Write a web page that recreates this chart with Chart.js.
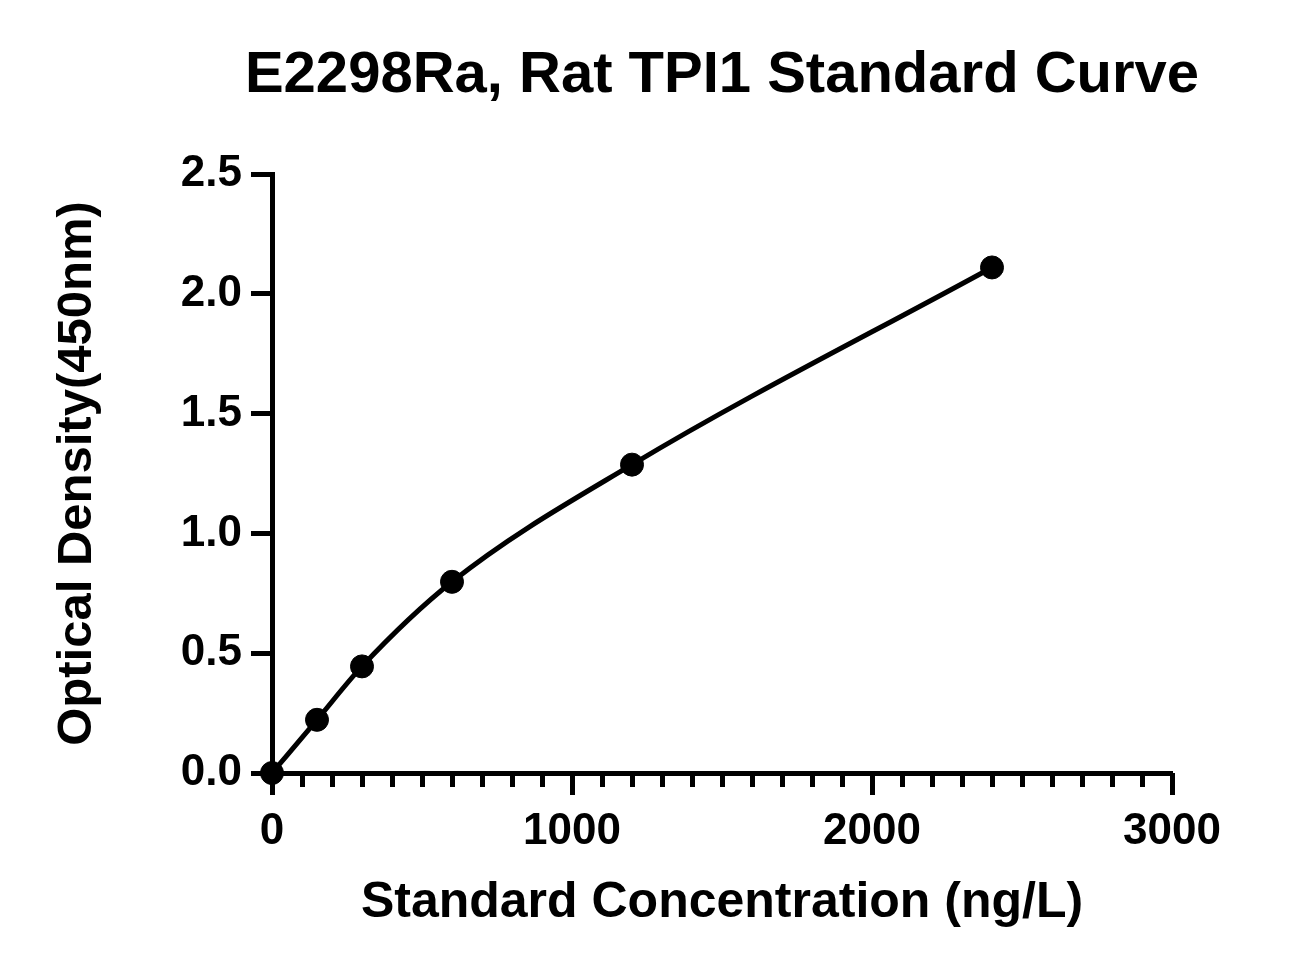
<!DOCTYPE html>
<html>
<head>
<meta charset="utf-8">
<script src="https://cdn.jsdelivr.net/npm/chart.js@4/dist/chart.umd.min.js"></script>
<style>
  html, body { margin: 0; padding: 0; background: #fff; }
  #wrap { width: 1311px; height: 975px; }
</style>
</head>
<body>
<div id="wrap"><canvas id="myChart"></canvas></div>
<script>
// standard points
const concentrations = [0, 150, 300, 600, 1200, 2400];
const densities = [0.0, 0.222, 0.445, 0.798, 1.287, 2.11];

const xTicks = [0, 1000, 2000, 3000];
const yTicks = [0.0, 0.5, 1.0, 1.5, 2.0, 2.5];

const titleText = 'E2298Ra, Rat TPI1 Standard Curve';
const xTitle = 'Standard Concentration (ng/L)';
const yTitle = 'Optical Density(450nm)';

const FONT = '"Liberation Sans", Arial, sans-serif';
const INK = '#000';

const points = concentrations.map((c, i) => ({ x: c, y: densities[i] }));

// title centred over the plot area; the built-in one squeezes text to the box width
const plotTitle = {
  id: 'plotTitle',
  afterDraw(chart) {
    const { ctx, chartArea } = chart;
    ctx.save();
    ctx.font = 'bold 58px ' + FONT;
    ctx.fillStyle = INK;
    ctx.textAlign = 'center';
    ctx.textBaseline = 'middle';
    ctx.fillText(titleText, (chartArea.left + chartArea.right) / 2, 76);
    ctx.restore();
  }
};

const ctx = document.getElementById('myChart').getContext('2d');
new Chart(ctx, {
  type: 'line',
  data: {
    datasets: [{
      data: points,
      borderColor: INK,
      borderWidth: 5,
      backgroundColor: INK,
      pointRadius: 11.5,
      pointBorderWidth: 1,
      pointBackgroundColor: INK,
      pointBorderColor: INK,
      cubicInterpolationMode: 'monotone',
      fill: false,
      clip: false
    }]
  },
  plugins: [plotTitle],
  options: {
    responsive: true,
    maintainAspectRatio: false,
    animation: false,
    devicePixelRatio: 1,
    layout: { padding: { top: 174, left: 0, right: 139, bottom: 0 } },
    plugins: {
      legend: { display: false },
      tooltip: { enabled: false },
      title: { display: false }
    },
    scales: {
      x: {
        type: 'linear',
        position: 'bottom',
        min: 0,
        max: 3000,
        afterBuildTicks: s => { s.ticks = xTicks.map(v => ({ value: v })); },
        afterFit: s => { s.height = 202; },
        ticks: {
          color: INK,
          font: { family: FONT, size: 44, weight: 'bold' },
          padding: 10,
          maxRotation: 0,
          callback: v => String(v)
        },
        grid: { drawOnChartArea: false, drawTicks: true, tickLength: 22, tickWidth: 5, tickColor: INK },
        border: { display: true, color: INK, width: 5 },
        title: {
          display: true,
          text: xTitle,
          color: INK,
          font: { family: FONT, size: 50, weight: 'bold' },
          padding: { top: 0, bottom: 42 }
        }
      },
      // minor ticks every 100 along the x axis
      x2: {
        type: 'linear',
        axis: 'x',
        position: { y: 0 },
        min: 0,
        max: 3000,
        ticks: { display: false, stepSize: 100 },
        grid: { drawOnChartArea: false, drawTicks: true, tickLength: 14, tickWidth: 5, tickColor: INK },
        border: { display: false }
      },
      y: {
        type: 'linear',
        position: 'left',
        min: 0,
        max: 2.5,
        afterBuildTicks: s => { s.ticks = yTicks.map(v => ({ value: v })); },
        afterFit: s => { s.width = 272; },
        ticks: {
          color: INK,
          font: { family: FONT, size: 44, weight: 'bold' },
          padding: 9,
          callback: v => Number(v).toFixed(1)
        },
        grid: { drawOnChartArea: false, drawTicks: true, tickLength: 21, tickWidth: 5, tickColor: INK },
        border: { display: true, color: INK, width: 5 },
        title: {
          display: true,
          text: yTitle,
          color: INK,
          font: { family: FONT, size: 49, weight: 'bold' },
          padding: { top: 48, bottom: 0 }
        }
      }
    }
  }
});
</script>
</body>
</html>
